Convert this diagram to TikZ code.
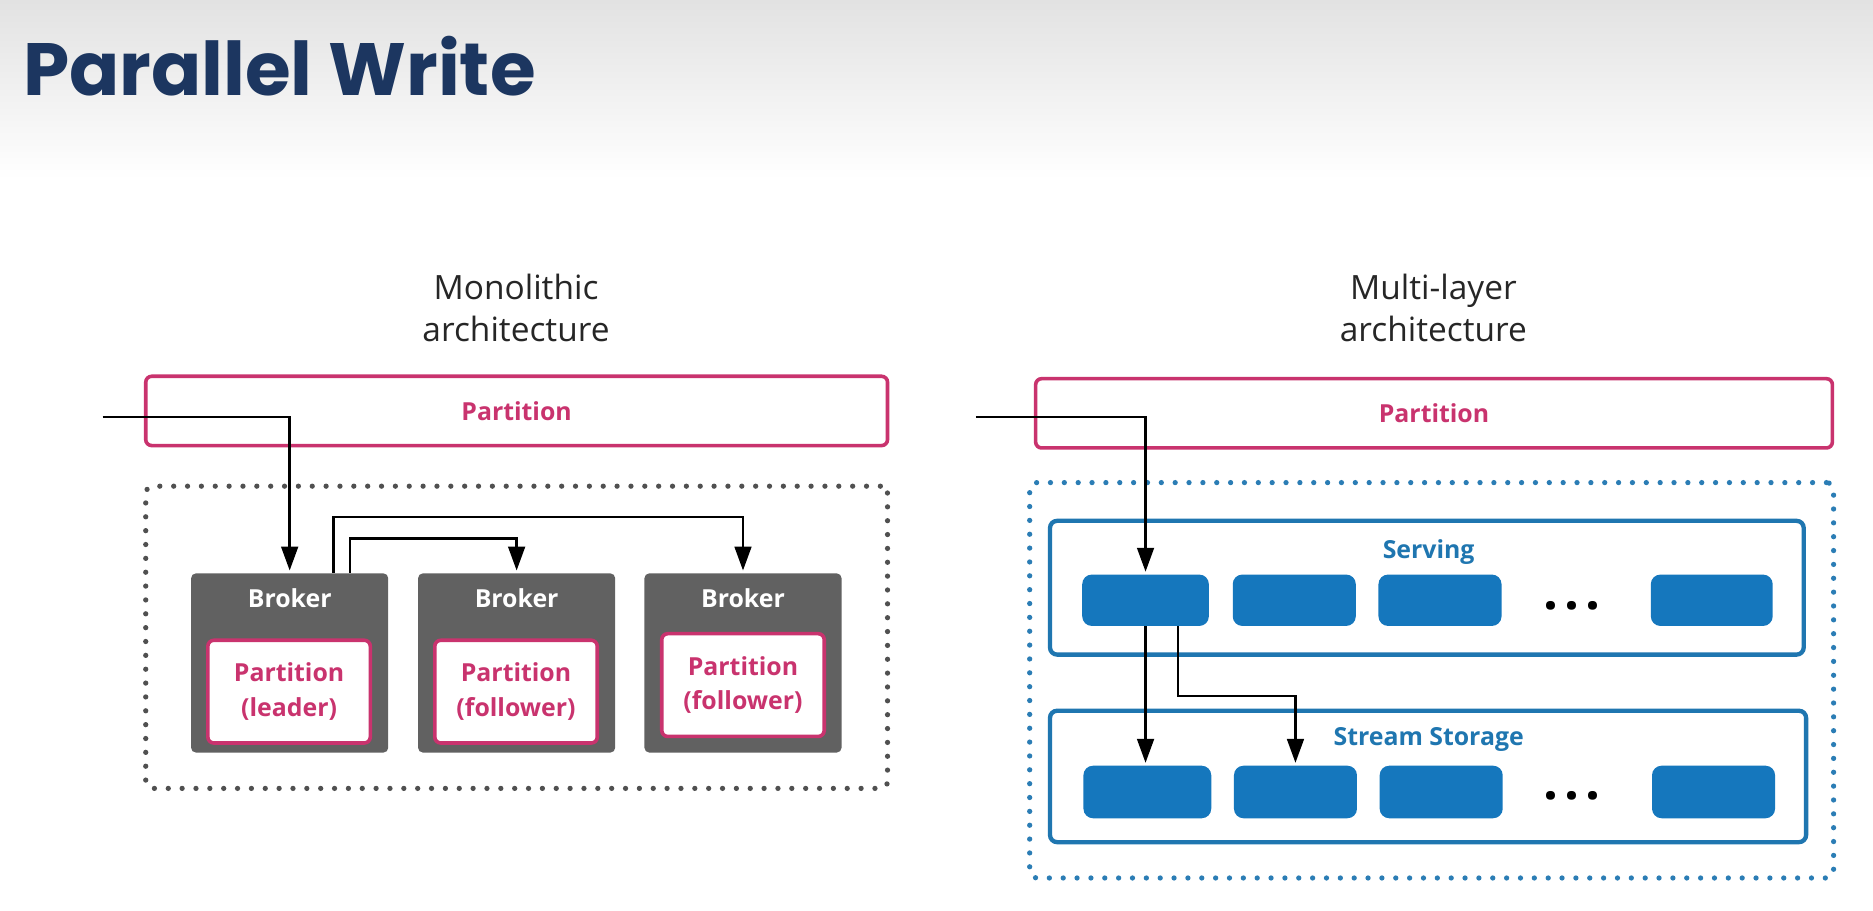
\documentclass[tikz,border=0pt]{standalone}
\usepackage{fontspec}
\setmainfont{Open Sans}
\newfontfamily\titlefont{Poppins}
\usetikzlibrary{arrows.meta,calc}
\definecolor{navy}{HTML}{1C3660}
\definecolor{pinkc}{HTML}{C9336E}
\definecolor{brokergrey}{HTML}{616161}
\definecolor{bluefill}{HTML}{1577BD}
\definecolor{layerblue}{HTML}{1F76B0}
\definecolor{dotblue}{HTML}{2B7DB5}
\definecolor{dotgrey}{HTML}{505050}
\definecolor{topgrey}{HTML}{E2E2E2}
\tikzset{
  lbl/.style={font=\bfseries\fontsize{10.4}{14.5}\selectfont},
  pinkbox/.style={draw=pinkc, line width=1.5pt, rounded corners=2.5pt, fill=white, lbl, text=pinkc, align=center, inner sep=0pt},
  brokerbox/.style={fill=brokergrey, rounded corners=2pt, inner sep=0pt},
  dotbox/.style={line width=2.2pt, line cap=round, dash pattern=on 0pt off 5.8pt, rounded corners=3pt, inner sep=0pt},
  layerbox/.style={draw=layerblue, line width=1.8pt, rounded corners=3pt, inner sep=0pt},
  cellbox/.style={fill=bluefill, rounded corners=4pt, inner sep=0pt, minimum height=21.5pt},
  arr/.style={draw=black, line width=1.05pt, shorten >=1pt, -{Triangle[length=10pt,width=7pt]}},
  subt/.style={align=center, font=\fontsize{14}{17.5}\selectfont, text=black!85},
  dots/.style={anchor=base, inner sep=0pt, font=\bfseries\fontsize{22}{22}\selectfont, text=black}
}
\begin{document}
\begin{tikzpicture}[x=0.5pt,y=0.5pt]
\useasboundingbox (0,0) rectangle (1568,-762);
\fill[white] (0,0) rectangle (1568,-762);
\shade[top color=topgrey, bottom color=white] (0,0) rectangle (1568,-150);

\node[anchor=base west, inner sep=0pt, text=navy, font=\titlefont\bfseries\fontsize{31}{36}\selectfont] (title) at (19,-80) {Parallel Write};

\node[subt] (mono) at (432,-258) {Monolithic\\architecture};
\node[subt] (multi) at (1200,-258) {Multi-layer\\architecture};

% ---------- left: monolithic ----------
\node[pinkbox, minimum width=310.5pt, minimum height=29pt] (lpart) at (432.5,-344) {Partition};
\node[dotbox, draw=dotgrey, minimum width=310.5pt, minimum height=126.5pt] (ldot) at (432.5,-533.5) {};

\node[brokerbox, minimum width=82.5pt, minimum height=75pt] (b1) at (242.5,-555) {};
\node[brokerbox, minimum width=82.5pt, minimum height=75pt] (b2) at (432.5,-555) {};
\node[brokerbox, minimum width=82.5pt, minimum height=75pt] (b3) at (622,-555) {};
\node[lbl, text=white] (b1l) at (242.5,-501) {Broker};
\node[lbl, text=white] (b2l) at (432.5,-501) {Broker};
\node[lbl, text=white] (b3l) at (622,-501) {Broker};

\node[pinkbox, minimum width=68pt, minimum height=43pt] (p1) at (242,-579) {Partition\\(leader)};
\node[pinkbox, minimum width=68pt, minimum height=43pt] (p2) at (432,-579) {Partition\\(follower)};
\node[pinkbox, minimum width=68pt, minimum height=43pt] (p3) at (622,-573.5) {Partition\\(follower)};

\coordinate (in1) at (86,-349);
\draw[arr] (in1) -| (b1.north);
\draw[arr] ($(b1.north)+(36.5,0)$) |- ($(b3.north)+(0,47)$) -- (b3.north);
\draw[arr] ($(b1.north)+(50.5,0)$) |- ($(b2.north)+(0,29)$) -- (b2.north);

% ---------- right: multi-layer ----------
\node[pinkbox, minimum width=333.5pt, minimum height=29pt] (rpart) at (1200.5,-346) {Partition};
\node[dotbox, draw=dotblue, minimum width=336.5pt, minimum height=165.5pt] (rdot) at (1198.5,-569.5) {};

\node[layerbox, minimum width=315.5pt, minimum height=56pt] (serving) at (1194.5,-492) {};
\node[lbl, text=layerblue] (servl) at (1196,-462) {Serving};
\node[layerbox, minimum width=316.5pt, minimum height=55pt] (storage) at (1195.5,-650) {};
\node[lbl, text=layerblue] (storl) at (1196,-619) {Stream Storage};

\node[cellbox, minimum width=53pt] (s1) at (959,-502.5) {};
\node[cellbox, minimum width=51.5pt] (s2) at (1083.5,-502.5) {};
\node[cellbox, minimum width=51.5pt] (s3) at (1205.5,-502.5) {};
\node[dots] (sd) at (1316,-510) {.\hspace{2.4pt}.\hspace{2.4pt}.};
\node[cellbox, minimum width=51pt] (s4) at (1433,-502.5) {};

\node[cellbox, minimum width=53.5pt, minimum height=22pt] (t1) at (960.5,-663) {};
\node[cellbox, minimum width=51.5pt, minimum height=22pt] (t2) at (1084.5,-663) {};
\node[cellbox, minimum width=51.5pt, minimum height=22pt] (t3) at (1206.5,-663) {};
\node[dots] (td) at (1316,-669) {.\hspace{2.4pt}.\hspace{2.4pt}.};
\node[cellbox, minimum width=51.5pt, minimum height=22pt] (t4) at (1434.5,-663) {};

\coordinate (in2) at (817,-349);
\draw[arr] (in2) -| (s1.north);
\draw[arr] (s1.south) -- (s1.south |- t1.north);
\draw[arr] ($(s1.south)+(27,0)$) |- ($(t2.north)+(0,58)$) -- (t2.north);
\end{tikzpicture}
\end{document}
